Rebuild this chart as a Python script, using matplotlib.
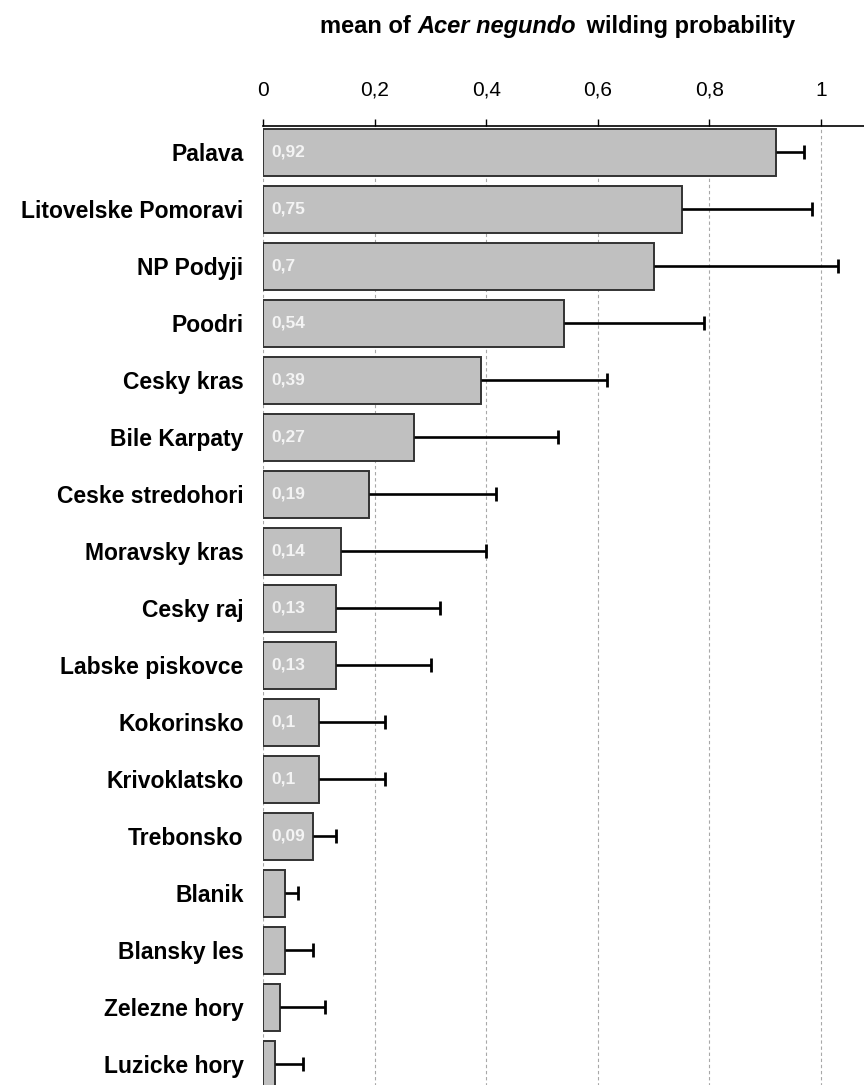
import matplotlib
matplotlib.use("Agg")
import matplotlib.pyplot as plt

plt.rcParams['font.family'] = ['Liberation Sans', 'DejaVu Sans']

# Protected areas, mean wilding probability and upper error length
areas = ["Palava", "Litovelske Pomoravi", "NP Podyji", "Poodri", "Cesky kras",
         "Bile Karpaty", "Ceske stredohori", "Moravsky kras", "Cesky raj",
         "Labske piskovce", "Kokorinsko", "Krivoklatsko", "Trebonsko",
         "Blanik", "Blansky les", "Zelezne hory", "Luzicke hory"]
means = [0.92, 0.75, 0.70, 0.54, 0.39, 0.27, 0.19, 0.14, 0.13, 0.13,
         0.10, 0.10, 0.09, 0.04, 0.04, 0.03, 0.022]
err_upper = [0.05, 0.234, 0.33, 0.25, 0.227, 0.258, 0.228, 0.26, 0.188, 0.171,
             0.119, 0.119, 0.04, 0.023, 0.05, 0.082, 0.05]
labelled = [True] * 13 + [False] * 4
xticks = [0, 0.2, 0.4, 0.6, 0.8, 1.0]
xtick_labels = ["0", "0,2", "0,4", "0,6", "0,8", "1"]

W, H = 864, 1085
fig = plt.figure(figsize=(W / 100, H / 100), dpi=100)
ax_top, ax_bot = 126, 1092.7
ax = fig.add_axes([263 / W, (H - ax_bot) / H, (W - 263) / W, (ax_bot - ax_top) / H])

ypos = list(range(len(areas)))
ax.barh(ypos, means, height=0.82, color="#c0c0c0", edgecolor="#333333",
        linewidth=1.4, zorder=2)

# one-sided error bars: line from the bar end plus a cap at the upper end
err_end = [m + e for m, e in zip(means, err_upper)]
ax.hlines(ypos, means, err_end, color="black", linewidth=1.9, zorder=3)
ax.plot(err_end, ypos, linestyle="none", marker="|", markersize=10,
        markeredgewidth=2.0, color="black", zorder=3)

for y, v, show in zip(ypos, means, labelled):
    if show:
        ax.text(0.015, y, f"{v:g}".replace(".", ","), color="#f4f4f4",
                fontsize=12.5, fontweight="bold", va="center", ha="left", zorder=4)

ax.set_xlim(0, 1.077)
ax.set_ylim(len(areas) - 0.5, -0.46)

ax.xaxis.tick_top()
ax.set_xticks(xticks)
ax.set_xticklabels(xtick_labels, fontsize=15)
ax.tick_params(axis="x", direction="out", length=5, width=1, pad=14, colors="black")
ax.set_yticks(ypos)
ax.set_yticklabels(areas, fontsize=16.5, fontweight="bold")
ax.tick_params(axis="y", length=0, pad=14)

for x in xticks:
    ax.axvline(x, color="#a8a8a8", linewidth=0.8, linestyle=(0, (3, 2.5)), zorder=1)

for side in ("left", "right", "bottom"):
    ax.spines[side].set_visible(False)
ax.spines["top"].set_linewidth(1.2)

# Title with italic species name
renderer = fig.canvas.get_renderer()
parts = [("mean of ", "normal"), ("Acer negundo", "italic"), (" wilding probability", "normal")]
texts = []
for s, style in parts:
    t = fig.text(0, 1 - 33 / H, s, fontsize=17, fontweight="bold", style=style,
                 ha="left", va="baseline")
    texts.append(t)
widths = [t.get_window_extent(renderer).width for t in texts]
gap = 4
cur = 320
for i, (t, w) in enumerate(zip(texts, widths)):
    t.set_x(cur / W)
    cur += w + (gap if i == 1 else 0)

fig.savefig("out.png", dpi=100)
